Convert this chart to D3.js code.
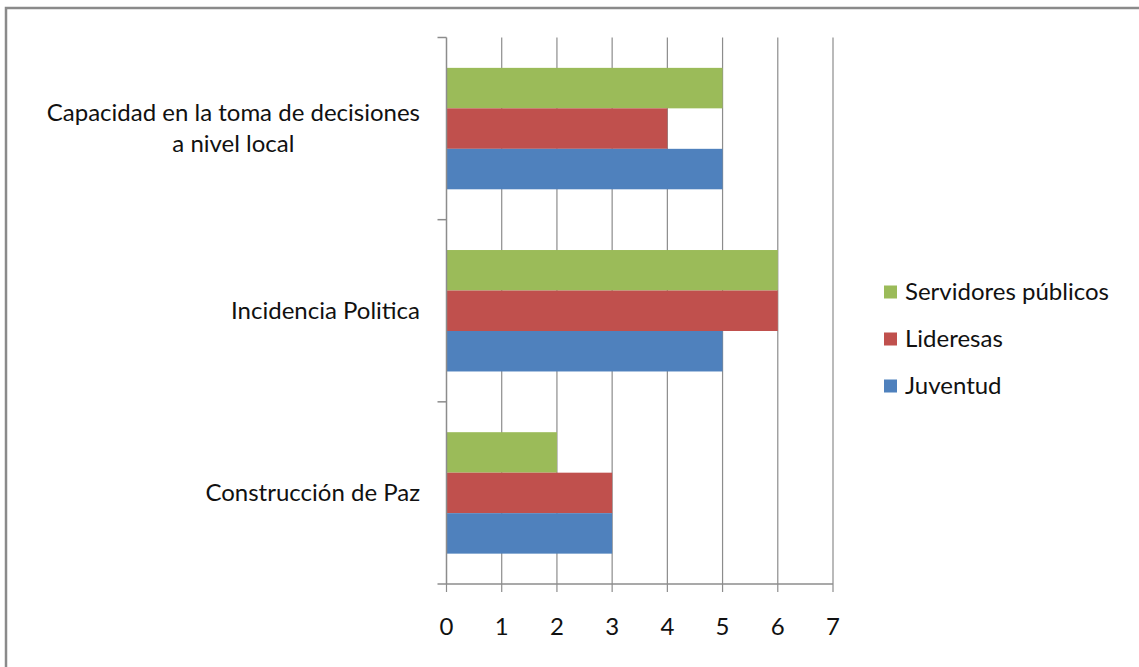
<!DOCTYPE html>
<html><head><meta charset="utf-8">
<script src="https://cdn.jsdelivr.net/npm/d3@7"></script>
<style>body{margin:0;background:#fff}svg{display:block}text{font-family:Lato,"Open Sans",sans-serif;fill:#111}</style>
</head><body><svg id="c" width="1139" height="667"></svg>
<script>
const categories = ["Capacidad en la toma de decisiones|a nivel local", "Incidencia Politica", "Construcción de Paz"];
const seriesNames = ["Servidores públicos", "Lideresas", "Juventud"];
const seriesColors = ["#9BBB59", "#C0504D", "#4F81BD"];
const servidores = [5, 6, 2];
const lideresas = [4, 6, 3];
const juventud = [5, 5, 3];
const xTicks = [0, 1, 2, 3, 4, 5, 6, 7];

const values = [servidores, lideresas, juventud];
const svg = d3.select("#c");
svg.append("rect").attr("x", 6).attr("y", 8).attr("width", 1150).attr("height", 700)
  .attr("fill", "none").attr("stroke", "#8a8a8a").attr("stroke-width", 2.5);

const L = 446.5, R = 833, T = 37.5, B = 584;
const x = d3.scaleLinear().domain([0, 7]).range([L, R]);
const y = d3.scaleBand().domain(categories).range([T, B]);
const inner = d3.scaleBand().domain(seriesNames).range([0, y.bandwidth()]).paddingOuter(0.75).paddingInner(0);

const grid = "#8c8c8c";
const FS = 24;
svg.append("g").selectAll("line").data(xTicks.slice(1)).join("line")
  .attr("x1", d => x(d)).attr("x2", d => x(d)).attr("y1", T).attr("y2", B + 8)
  .attr("stroke", grid).attr("stroke-width", 1.2);

categories.forEach((c, ci) => {
  svg.append("g").selectAll("rect").data(seriesNames).join("rect")
    .attr("x", x(0)).attr("y", s => y(c) + inner(s))
    .attr("width", (s, si) => x(values[si][ci]) - x(0))
    .attr("height", inner.bandwidth())
    .attr("fill", (s, si) => seriesColors[si]);
});

svg.append("line").attr("x1", L).attr("x2", L).attr("y1", T).attr("y2", B).attr("stroke", grid).attr("stroke-width", 1.5);
svg.append("line").attr("x1", L - 9).attr("x2", R).attr("y1", B).attr("y2", B).attr("stroke", grid).attr("stroke-width", 1.5);
svg.append("line").attr("x1", L).attr("x2", L).attr("y1", B).attr("y2", B + 8).attr("stroke", grid).attr("stroke-width", 1.2);
const yTickPos = [T, y(categories[1]), y(categories[2])];
svg.append("g").selectAll("line").data(yTickPos).join("line")
  .attr("x1", L - 9).attr("x2", L).attr("y1", d => d).attr("y2", d => d)
  .attr("stroke", grid).attr("stroke-width", 1.5);

svg.append("g").selectAll("text").data(xTicks).join("text")
  .attr("x", d => x(d)).attr("y", 627).attr("dy", "0.35em").attr("text-anchor", "middle")
  .attr("font-size", FS).text(d => d);

categories.forEach(c => {
  const lines = c.split("|");
  const cy = y(c) + y.bandwidth() / 2;
  const lh = 31;
  const nodes = lines.map((ln, i) =>
    svg.append("text").attr("x", 420).attr("y", cy + (i - (lines.length - 1) / 2) * lh)
      .attr("dy", "0.35em").attr("text-anchor", "end")
      .attr("font-size", FS).text(ln).node());
  if (lines.length > 1) {
    const w = d3.max(nodes, n => n.getComputedTextLength());
    nodes.forEach(n => d3.select(n).attr("text-anchor", "middle").attr("x", 420 - w / 2));
  }
});

const lg = svg.append("g");
seriesNames.forEach((s, i) => {
  const cy = 292 + i * 47;
  lg.append("rect").attr("x", 884).attr("y", cy - 6.5).attr("width", 13).attr("height", 13).attr("fill", seriesColors[i]);
  lg.append("text").attr("x", 905).attr("y", cy).attr("dy", "0.35em").attr("font-size", FS).text(s);
});
</script></body></html>
